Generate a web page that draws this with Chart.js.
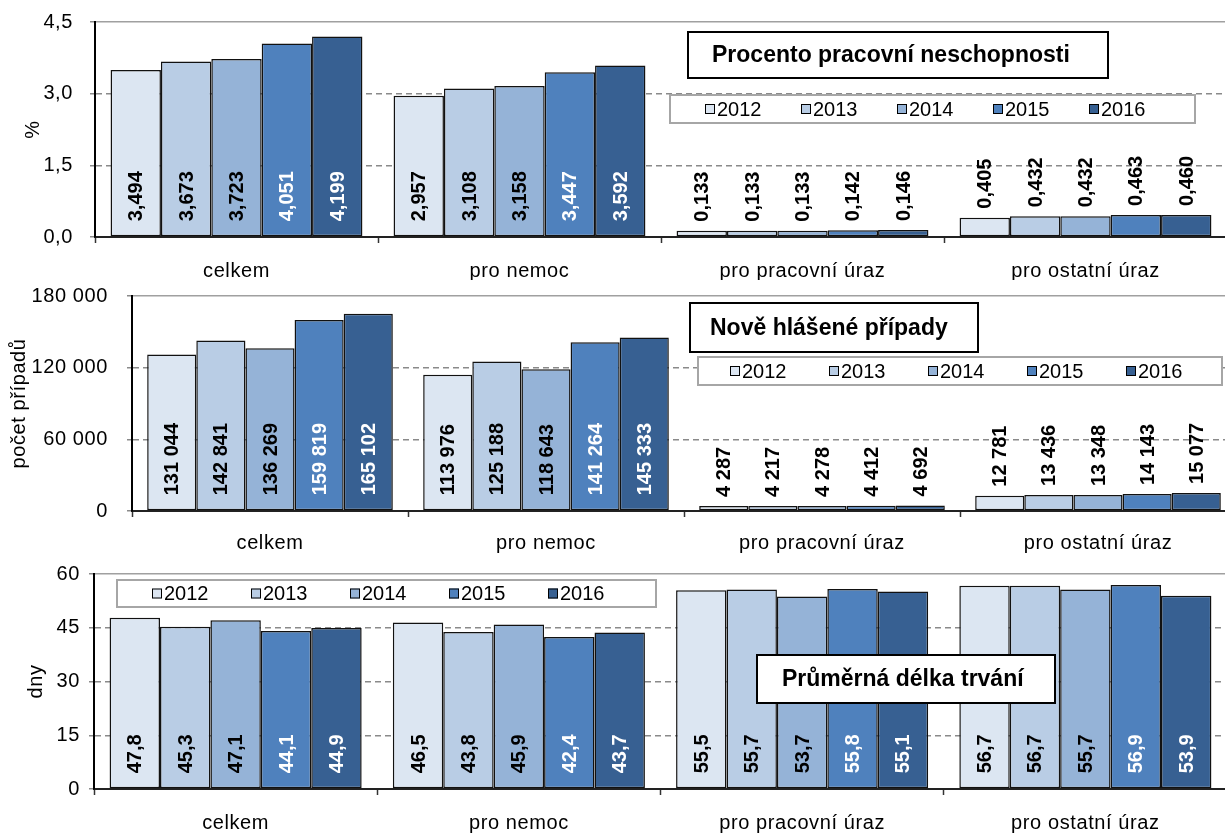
<!DOCTYPE html>
<html lang="cs">
<head>
<meta charset="utf-8">
<script src="https://cdn.jsdelivr.net/npm/chart.js@4.4.1/dist/chart.umd.min.js"></script>
<style>
  html, body { margin: 0; padding: 0; background: #fff; width: 1225px; height: 835px; overflow: hidden; position: relative; }
  canvas { position: absolute; left: 0; }
</style>
</head>
<body>
<canvas id="pctChart" width="1227" height="280" style="top:0"></canvas>
<canvas id="casesChart" width="1236" height="276" style="top:280px"></canvas>
<canvas id="daysChart" width="1227" height="279" style="top:556px"></canvas>
<script>
// data (one row per year, columns follow categories)
const categories = ['celkem', 'pro nemoc', 'pro pracovní úraz', 'pro ostatní úraz'];
const years = ['2012', '2013', '2014', '2015', '2016'];
const yearColors = ['#DCE6F2', '#B9CDE5', '#95B3D7', '#4F81BD', '#376092'];

const pctValues = [
  [3.494, 2.957, 0.133, 0.405],
  [3.673, 3.108, 0.133, 0.432],
  [3.723, 3.158, 0.133, 0.432],
  [4.051, 3.447, 0.142, 0.463],
  [4.199, 3.592, 0.146, 0.460]
];
const casesValues = [
  [131044, 113976, 4287, 12781],
  [142841, 125188, 4217, 13436],
  [136269, 118643, 4278, 13348],
  [159819, 141264, 4412, 14143],
  [165102, 145333, 4692, 15077]
];
const daysValues = [
  [47.8, 46.5, 55.5, 56.7],
  [45.3, 43.8, 55.7, 56.7],
  [47.1, 45.9, 53.7, 55.7],
  [44.1, 42.4, 55.8, 56.9],
  [44.9, 43.7, 55.1, 53.9]
];

const FONT = '"Liberation Sans", Arial, sans-serif';
Chart.defaults.font.family = FONT;
Chart.defaults.font.size = 20;
Chart.defaults.color = '#000';

const fmtDec = (d) => v => v.toFixed(d).replace('.', ',');
const fmtThousands = v => String(v).replace(/\B(?=(\d{3})+(?!\d))/g, '\u00a0');

// rotated value labels, inside the base when they fit, above the bar otherwise
const valueLabels = {
  id: 'valueLabels',
  beforeDraw(chart) {
    chart.ctx.letterSpacing = '0.6px'; // axis text is a bit spaced out in the original
  },
  afterDatasetsDraw(chart, args, opts) {
    const ctx = chart.ctx;
    ctx.save();
    ctx.letterSpacing = '0px';
    ctx.font = 'bold 20px ' + FONT;
    ctx.textBaseline = 'middle';
    ctx.textAlign = 'left';
    chart.data.datasets.forEach((ds, di) => {
      chart.getDatasetMeta(di).data.forEach((bar, i) => {
        const text = opts.format(ds.data[i]);
        const w = ctx.measureText(text).width;
        const h = bar.base - bar.y;
        let y0, color;
        if (h > w + 24) {
          y0 = bar.base - 15;
          color = di >= 3 ? '#fff' : '#000';
        } else {
          y0 = bar.y - 9;
          color = '#000';
        }
        ctx.save();
        ctx.translate(bar.x + 1, y0);
        ctx.rotate(-Math.PI / 2);
        ctx.fillStyle = color;
        ctx.fillText(text, 0, 0);
        ctx.restore();
      });
    });
    ctx.restore();
  }
};

// title box + boxed legend drawn on top of the plot
const panelBoxes = {
  id: 'panelBoxes',
  afterDraw(chart, args, opts) {
    const ctx = chart.ctx;
    const t = opts.title, l = opts.legend;
    ctx.save();
    ctx.letterSpacing = '0px';

    ctx.fillStyle = '#fff';
    ctx.fillRect(l.x, l.y, l.w, l.h);
    ctx.strokeStyle = '#a6a6a6';
    ctx.lineWidth = 2;
    ctx.strokeRect(l.x, l.y, l.w, l.h);
    ctx.font = '20px ' + FONT;
    ctx.textBaseline = 'middle';
    ctx.textAlign = 'left';
    const cy = l.y + l.h / 2;
    chart.data.datasets.forEach((ds, i) => {
      const x = l.first + i * l.step;
      ctx.fillStyle = ds.backgroundColor;
      ctx.fillRect(x, cy - 5, 10, 10);
      ctx.strokeStyle = '#000';
      ctx.lineWidth = 1;
      ctx.strokeRect(x + 0.5, cy - 4.5, 9, 9);
      ctx.fillStyle = '#000';
      ctx.fillText(ds.label, x + 12, cy + 1);
    });

    ctx.fillStyle = '#fff';
    ctx.fillRect(t.x, t.y, t.w, t.h);
    ctx.strokeStyle = '#000';
    ctx.lineWidth = 2;
    ctx.strokeRect(t.x, t.y, t.w, t.h);
    ctx.fillStyle = '#000';
    ctx.font = 'bold 23px ' + FONT;
    ctx.fillText(t.text, t.textX, t.y + t.h / 2 + 1);
    ctx.restore();
  }
};

function makePanel(id, p) {
  const datasets = years.map((y, i) => ({
    label: y,
    data: p.values[i],
    backgroundColor: yearColors[i],
    borderColor: '#111',
    borderWidth: 1.5,
    borderSkipped: false,
    categoryPercentage: 0.89,
    barPercentage: 1.0
  }));

  return new Chart(document.getElementById(id), {
    type: 'bar',
    data: { labels: categories, datasets },
    plugins: [valueLabels, panelBoxes],
    options: {
      responsive: false,
      animation: false,
      devicePixelRatio: 1,
      layout: { padding: { top: p.padTop, right: 0, left: 0, bottom: 0 } },
      scales: {
        x: {
          afterFit: s => { s.height = p.xHeight; },
          grid: {
            drawOnChartArea: false,
            drawTicks: true,
            tickLength: 6,
            tickColor: '#333',
            tickWidth: 1.5
          },
          border: { color: '#222', width: 2 },
          ticks: { padding: p.xPad, color: '#000', font: { size: 20 } }
        },
        y: {
          min: 0,
          max: p.max,
          afterFit: s => {
            s.width = p.axisX;
            // tick padding should only push labels sideways, not shrink the plot
            s.paddingTop = 12;
            s.paddingBottom = 12;
          },
          afterBuildTicks: s => {
            const t = [];
            for (let v = 0; v <= p.max + 1e-9; v += p.step) t.push({ value: v });
            s.ticks = t;
          },
          grid: {
            color: ctx => ctx.tick && ctx.tick.value >= p.max - 1e-9 ? '#a0a0a0' : '#8a8a8a',
            lineWidth: 1.5,
            tickLength: 5,
            tickColor: '#8a8a8a'
          },
          border: {
            color: '#000',
            width: 2,
            dash: ctx => (ctx.type === 'tick' && ctx.tick.value > 0 && ctx.tick.value < p.max - 1e-9) ? [6, 4] : []
          },
          ticks: {
            padding: p.yPad,
            color: '#000',
            font: { size: 20 },
            callback: v => p.tickFmt(v)
          },
          title: {
            display: true,
            text: p.yTitle,
            color: '#000',
            font: { size: 20 },
            padding: { top: p.titlePad, bottom: 0 }
          }
        }
      },
      plugins: {
        legend: { display: false },
        tooltip: { enabled: false },
        valueLabels: { format: p.labelFmt },
        panelBoxes: { title: p.titleBox, legend: p.legendBox }
      }
    }
  });
}

makePanel('pctChart', {
  values: pctValues, max: 4.5, step: 1.5,
  tickFmt: fmtDec(1), labelFmt: fmtDec(3),
  yTitle: '%', titlePad: 21,
  axisX: 95, padTop: 22, xHeight: 43, xPad: 16, yPad: 17,
  titleBox: { x: 688, y: 32, w: 420, h: 46, text: 'Procento pracovní neschopnosti', textX: 712 },
  legendBox: { x: 670, y: 95, w: 525, h: 28, first: 705, step: 96 }
});

makePanel('casesChart', {
  values: casesValues, max: 180000, step: 60000,
  tickFmt: fmtThousands, labelFmt: fmtThousands,
  yTitle: 'počet případů', titlePad: 7,
  axisX: 132, padTop: 16, xHeight: 45, xPad: 14, yPad: 19,
  titleBox: { x: 690, y: 23, w: 288, h: 49, text: 'Nově hlášené případy', textX: 710 },
  legendBox: { x: 698, y: 77, w: 524, h: 28, first: 730, step: 99 }
});

makePanel('daysChart', {
  values: daysValues, max: 60, step: 15,
  tickFmt: v => String(v), labelFmt: fmtDec(1),
  yTitle: 'dny', titlePad: 24,
  axisX: 94, padTop: 18, xHeight: 46, xPad: 16, yPad: 9,
  titleBox: { x: 757, y: 99, w: 298, h: 48, text: 'Průměrná délka trvání', textX: 782 },
  legendBox: { x: 117, y: 24, w: 539, h: 27, first: 152, step: 99 }
});
</script>
</body>
</html>
